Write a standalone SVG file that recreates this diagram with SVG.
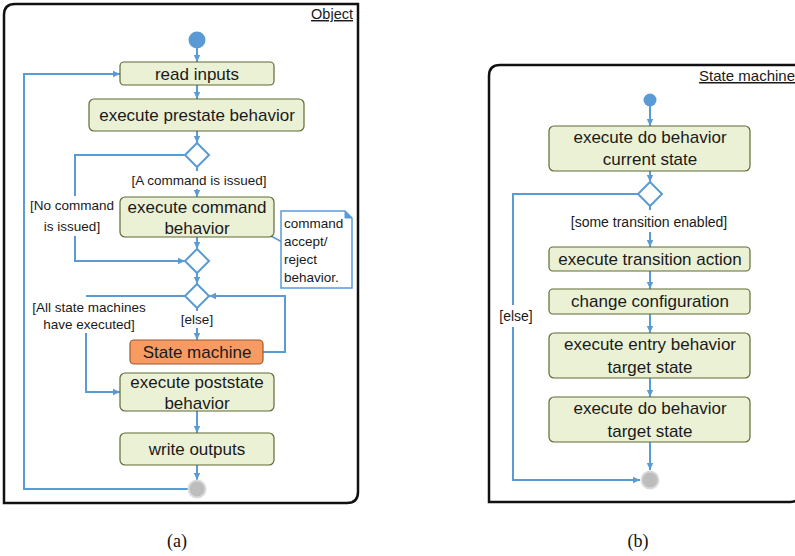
<svg xmlns="http://www.w3.org/2000/svg" width="795" height="556" viewBox="0 0 795 556">
<defs>
<marker id="arr" markerWidth="8" markerHeight="8" refX="7" refY="4" orient="auto" markerUnits="userSpaceOnUse">
<path d="M0,0.8 L7,4 L0,7.2 Z" fill="#5B9BD5"/>
</marker>
<style>
.frame{fill:none;stroke:#111;stroke-width:2.5}
.box{fill:#EBF1D5;stroke:#5E6B33;stroke-width:1.2}
.orange{fill:#F79B63;stroke:#9A5B30;stroke-width:1.2}
.dia{fill:#fff;stroke:#5B9BD5;stroke-width:2}
.c{fill:none;stroke:#5B9BD5;stroke-width:2}
.ca{fill:none;stroke:#5B9BD5;stroke-width:2;marker-end:url(#arr)}
.t{font-family:"Liberation Sans",Arial,sans-serif;font-size:17px;fill:#1a1a1a;text-anchor:middle}
.l{font-family:"Liberation Sans",Arial,sans-serif;font-size:13.5px;fill:#1a1a1a;text-anchor:middle}
.n{font-family:"Liberation Sans",Arial,sans-serif;font-size:13.5px;fill:#1a1a1a}
.cap{font-family:"Liberation Serif","Times New Roman",serif;font-size:18px;fill:#111;text-anchor:middle}
.start{fill:#5B9BD5}
.fin{fill:#BDBDBD;stroke:#DADADA;stroke-width:2}
</style>
</defs>

<!-- Frames -->
<g id="frame-object">
<path class="frame" d="M4,15 Q4,4 15,4 L358,4 L358,492 Q358,503 347,503 L4,503 Z"/>
<text x="353" y="19" font-family="Liberation Sans,Arial,sans-serif" font-size="14.5" fill="#1a1a1a" text-anchor="end" text-decoration="underline">Object</text>
</g>
<g id="frame-sm">
<path class="frame" d="M489,76 Q489,65 500,65 L800,65 L800,492 Q800,502 790,502 L489,502 Z"/>
<text x="795" y="81" font-family="Liberation Sans,Arial,sans-serif" font-size="15" fill="#1a1a1a" text-anchor="end" text-decoration="underline">State machine</text>
</g>

<!-- Connectors -->
<g id="connectors">
<!-- left -->
<path class="ca" d="M197,48 L197,62"/>
<path class="ca" d="M197,85 L197,99"/>
<path class="ca" d="M197,131 L197,143"/>
<path class="c" d="M197,167 L197,171"/>
<path class="ca" d="M197,189 L197,197"/>
<path class="c" d="M185,155 L75,155 L75,196"/>
<path class="ca" d="M75,236 L75,261 L185,261"/>
<path class="ca" d="M197,237 L197,249"/>
<path class="ca" d="M197,273 L197,284"/>
<path class="c" d="M185,296 L86,296"/>
<path class="ca" d="M86,333 L86,392 L120,392"/>
<path class="c" d="M197,308 L197,311"/>
<path class="ca" d="M197,328 L197,340"/>
<path class="ca" d="M263,352 L285,352 L285,296 L209,296"/>
<path class="ca" d="M197,411 L197,433"/>
<path class="ca" d="M197,465 L197,480"/>
<path class="ca" d="M188,489 L24,489 L24,74 L120,74"/>
<path d="M271,236 L282,242" fill="none" stroke="#5B9BD5" stroke-width="1.5"/>
<!-- right -->
<path class="ca" d="M650,106 L650,126"/>
<path class="ca" d="M650,171 L650,182"/>
<path class="c" d="M650,206 L650,210"/>
<path class="ca" d="M650,232 L650,247"/>
<path class="ca" d="M650,271 L650,289"/>
<path class="ca" d="M650,314 L650,333"/>
<path class="ca" d="M650,378 L650,397"/>
<path class="ca" d="M650,442 L650,470"/>
<path class="c" d="M638,194 L513,194 L513,305"/>
<path class="ca" d="M513,327 L513,480 L640,480"/>
</g>

<!-- Left nodes -->
<g id="start-a"><circle class="start" cx="197" cy="40" r="8.5"/></g>
<g id="read-inputs"><rect class="box" x="120" y="62" width="154" height="23" rx="4"/><text class="t" x="197" y="80">read inputs</text></g>
<g id="prestate"><rect class="box" x="89" y="99" width="215" height="32" rx="5"/><text class="t" x="197" y="121">execute prestate behavior</text></g>
<g id="decision-1"><path class="dia" d="M197,143 L209,155 L197,167 L185,155 Z"/></g>
<g id="label-cmd"><text class="l" x="199" y="185">[A command is issued]</text></g>
<g id="label-nocmd"><text class="l" x="72" y="210">[No command</text><text class="l" x="72" y="231">is issued]</text></g>
<g id="command"><rect class="box" x="120" y="197" width="154" height="40" rx="5"/><text class="t" x="197" y="213">execute command</text><text class="t" x="197" y="234">behavior</text></g>
<g id="note"><path d="M281,211 L345,211 L352,218 L352,288 L281,288 Z" fill="#fff" stroke="#5B9BD5" stroke-width="1.5"/><path d="M345,211 L345,218 L352,218" fill="#5B9BD5" stroke="#5B9BD5" stroke-width="1"/>
<text class="n" x="284" y="228">command</text><text class="n" x="284" y="246">accept/</text><text class="n" x="284" y="264">reject</text><text class="n" x="284" y="282">behavior.</text></g>
<g id="decision-2"><path class="dia" d="M197,249 L209,261 L197,273 L185,261 Z"/></g>
<g id="decision-3"><path class="dia" d="M197,284 L209,296 L197,308 L185,296 Z"/></g>
<g id="label-all"><text class="l" x="89" y="312">[All state machines</text><text class="l" x="89" y="329">have executed]</text></g>
<g id="label-else-a"><text class="l" x="197" y="324">[else]</text></g>
<g id="state-machine"><rect class="orange" x="130" y="340" width="133" height="24" rx="4"/><text class="t" x="197" y="358">State machine</text></g>
<g id="poststate"><rect class="box" x="120" y="373" width="154" height="38" rx="5"/><text class="t" x="197" y="388">execute poststate</text><text class="t" x="197" y="409">behavior</text></g>
<g id="write-outputs"><rect class="box" x="120" y="433" width="154" height="32" rx="5"/><text class="t" x="197" y="455">write outputs</text></g>
<g id="final-a"><circle class="fin" cx="197" cy="489" r="8.5"/></g>

<!-- Right nodes -->
<g id="start-b"><circle class="start" cx="650" cy="100" r="6.5"/></g>
<g id="do-current"><rect class="box" x="549" y="126" width="201" height="45" rx="5"/><text class="t" x="650" y="143">execute do behavior</text><text class="t" x="650" y="165">current state</text></g>
<g id="decision-b"><path class="dia" d="M650,182 L662,194 L650,206 L638,194 Z"/></g>
<g id="label-some"><text class="l" x="649" y="227" style="font-size:14px">[some transition enabled]</text></g>
<g id="label-else-b"><text class="l" x="516" y="321" style="font-size:14px">[else]</text></g>
<g id="transition-action"><rect class="box" x="549" y="247" width="201" height="24" rx="4"/><text class="t" x="650" y="265">execute transition action</text></g>
<g id="change-config"><rect class="box" x="549" y="289" width="201" height="25" rx="4"/><text class="t" x="650" y="307">change configuration</text></g>
<g id="entry-target"><rect class="box" x="549" y="333" width="201" height="45" rx="5"/><text class="t" x="650" y="350">execute entry behavior</text><text class="t" x="650" y="373">target state</text></g>
<g id="do-target"><rect class="box" x="549" y="397" width="201" height="45" rx="5"/><text class="t" x="650" y="414">execute do behavior</text><text class="t" x="650" y="437">target state</text></g>
<g id="final-b"><circle class="fin" cx="650" cy="480" r="8.5"/></g>

<text class="cap" x="177" y="547">(a)</text>
<text class="cap" x="638" y="547">(b)</text>
</svg>
